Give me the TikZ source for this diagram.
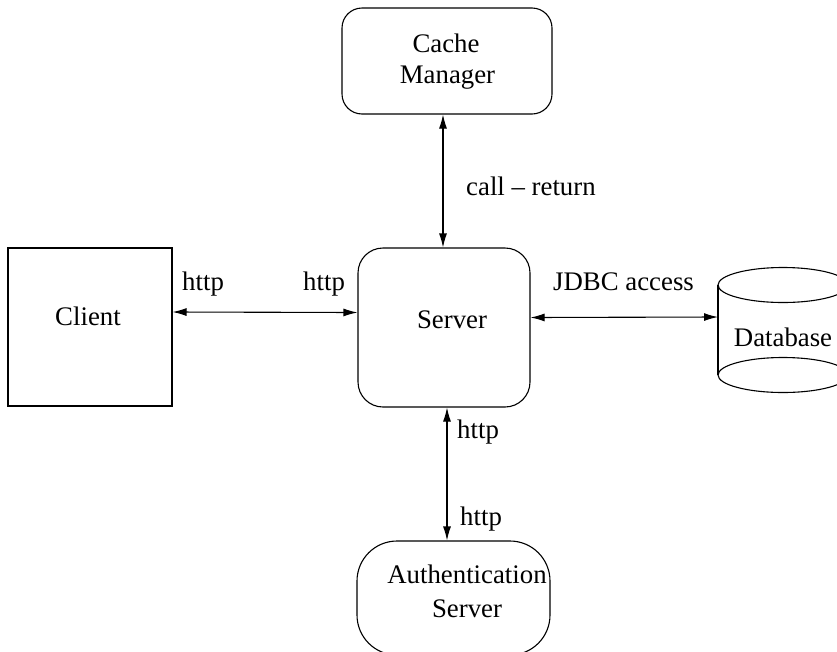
\documentclass[tikz,border=0pt]{standalone}
\usepackage{fontspec}
\setmainfont{Liberation Serif}
\usetikzlibrary{arrows.meta}
\begin{document}
\begin{tikzpicture}[x=1pt,y=-1pt,
  every node/.style={font=\fontsize{26.8}{32}\selectfont},
  box/.style={draw, line width=1.1pt, inner sep=0pt},
  txt/.style={inner sep=0pt, anchor=base},
  lbl/.style={inner sep=0pt, anchor=west},
  link/.style={line width=1.1pt, {Latex[length=14pt,width=8pt]}-{Latex[length=14pt,width=8pt]}}]
\useasboundingbox (0,0) rectangle (837,651);
% boxes
\node[box, rounded corners=20pt, minimum width=210pt, minimum height=106pt] (cache) at (447,61) {};
\node[box, rounded corners=25pt, minimum width=172pt, minimum height=159pt] (server) at (444,327.5) {};
\node[box, minimum width=164pt, minimum height=158pt] (client) at (90,327) {};
\node[box, rounded corners=40pt, minimum width=193pt, minimum height=114pt] (auth) at (453.5,598) {};
% database cylinder
\node[inner sep=0pt, minimum width=130pt, minimum height=125pt] (db) at (783,330) {};
\draw[line width=1.1pt] (718,285) -- (718,375) (848,285) -- (848,375);
\draw[line width=1.1pt] (783,285) ellipse [x radius=65, y radius=17.5];
\draw[line width=1.1pt] (783,375) ellipse [x radius=65, y radius=17.5];
\coordinate (dbin) at (718,317);
% box texts
\node[txt] (cachet1) at (446,52) {Cache};
\node[txt] (cachet2) at (447.5,83) {Manager};
\node[txt] (servert) at (452,328) {Server};
\node[txt] (clientt) at (88,325) {Client};
\node[txt] (dbt) at (783,346) {Database};
\node[txt] (autht1) at (467,583) {Authentication};
\node[txt] (autht2) at (467,617) {Server};
% connectors
\draw[link] ([xshift=-4pt]cache.south) -- ([xshift=-1pt]server.north);
\draw[link] ([yshift=15pt]client.east) -- ([yshift=15pt]server.west);
\draw[link] ([yshift=10pt]server.east) -- (dbin);
\draw[link] ([xshift=3pt]server.south) -- ([xshift=-6.5pt]auth.north);
% labels
\node[lbl] (l1) at (466,186) {call -- return};
\node[lbl] (l2) at (182,284) {http};
\node[lbl] (l3) at (303,284) {http};
\node[lbl] (l4) at (553,282) {JDBC access};
\node[lbl] (l5) at (457,432) {http};
\node[lbl] (l6) at (460,519) {http};
\end{tikzpicture}
\end{document}
